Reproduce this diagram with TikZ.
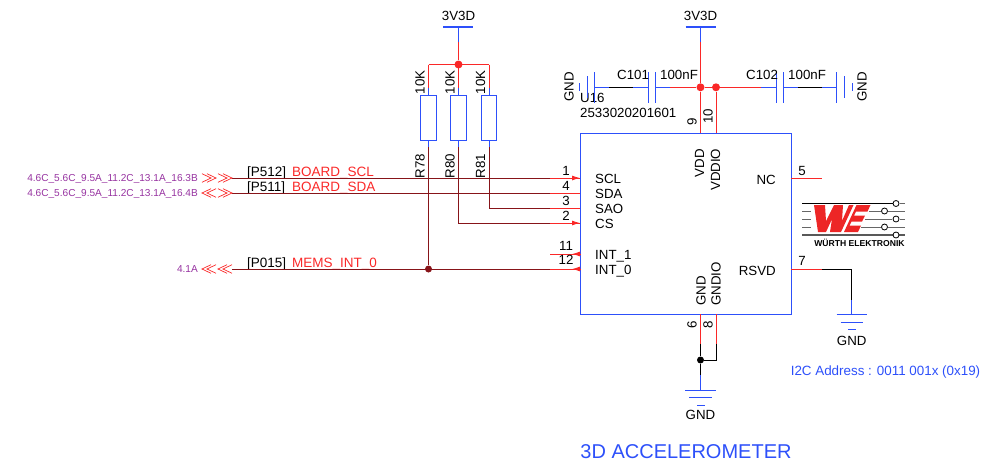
\documentclass[tikz,border=0pt]{standalone}
\usepackage{fontspec}
\setmainfont{Liberation Sans}
\usetikzlibrary{arrows.meta}
\definecolor{wireblue}{RGB}{45,80,250}
\definecolor{wirered}{RGB}{250,40,40}
\definecolor{wiredark}{RGB}{135,20,25}
\definecolor{sheetpurple}{RGB}{150,50,160}
\tikzset{
  x=1pt, y=-1pt,
  bluew/.style={draw=wireblue, line width=0.9pt},
  redw/.style={draw=wirered, line width=0.9pt},
  darkw/.style={draw=wiredark, line width=0.9pt},
  blackw/.style={draw=black, line width=0.9pt},
  dot/.style={circle, fill=#1, inner sep=0pt, minimum size=8pt},
  txt/.style={inner sep=0pt, font=\fontsize{13.3}{13.3}\selectfont},
  small/.style={inner sep=0pt, text=sheetpurple, font=\fontsize{10.1}{10.1}\selectfont},
  netname/.style={txt, anchor=base west, text=wirered, font=\fontsize{13.5}{13.5}\selectfont},
  netref/.style={txt, anchor=base west, font=\fontsize{13.5}{13.5}\selectfont},
  res/.style={draw=wireblue, line width=0.9pt, inner sep=0pt, minimum width=15.5pt, minimum height=45pt},
  ic/.style={draw=wireblue, line width=0.9pt, inner sep=0pt, minimum width=211pt, minimum height=181pt},
  chev/.pic={
    \foreach \s in {0,5} {
      \draw[draw=wirered, line width=0.7pt] (\s,-4.3) -- (\s+9,0) -- (\s,4.3);
    }
  }
}
\begin{document}
\begin{tikzpicture}
    \useasboundingbox (0,0) rectangle (990,461);

    % Accelerometer body
    \node[ic] (U16) at (685.5,223.5) {};
    \node[txt, anchor=west] (refdes) at (580,98) {U16};
    \node[txt, anchor=west] (partno) at (580,113) {2533020201601};
    \node[txt, text=wireblue, font=\fontsize{20}{20}\selectfont] (title) at (686,451.5) {3D ACCELEROMETER};
    \node[txt, text=wireblue, font=\fontsize{13.4}{13.4}\selectfont] (i2caddr) at (885.5,372) {I2C Address : 0011 001x (0x19)};

    % Left pins: name/y/number/number y/pin label
    \foreach \n/\y/\p/\q/\l in {scl/178/1/171/SCL, sda/193/4/186/SDA, sao/208/3/201/SAO, cs/223/2/216/CS, intb/254/11/246/INT\_1, inta/269/12/260/INT\_0} {
      \coordinate (\n pin) at (580,\y);
      \coordinate (\n stub) at (550,\y);
      \node[txt] (\n num) at (566,\q) {\p};
      \node[txt, anchor=base west] (\n lab) at (595,\y+5.7) {\l};
      \draw[redw] (\n stub) -- (\n pin);
    }
    % Pin arrows
    \foreach \n in {scl,cs} {
      \draw[redw, -{Latex[length=8pt,width=5pt]}] (\n stub) -- (\n pin);
    }
    \foreach \n in {intb,inta} {
      \draw[redw, -{Latex[length=8pt,width=5pt]}] (\n pin) -- ++(-8,0);
    }

    % Nets going off the sheet
    \foreach \n/\r/\t/\y in {scl/P512/BOARD\_SCL/178, sda/P511/BOARD\_SDA/193, inta/P015/MEMS\_INT\_0/269} {
      \coordinate (\n off) at (232,\y);
      \node[netref] (\n ref) at (247,\y-1.5) {[\r]};
      \node[netname] (\n net) at (292,\y-1.5) {\t};
      \draw[darkw] (\n off) -- (\n stub);
    }
    \pic at (202,178) {chev};
    \pic at (218,178) {chev};
    \pic[xscale=-1] at (216,193) {chev};
    \pic at (218,193) {chev};
    \pic[xscale=-1] at (216,269) {chev};
    \pic[xscale=-1] at (232,269) {chev};
    \node[small, anchor=east] (sclsheet) at (198,178.5) {4.6C\_5.6C\_9.5A\_11.2C\_13.1A\_16.3B};
    \node[small, anchor=east] (sdasheet) at (198,193.5) {4.6C\_5.6C\_9.5A\_11.2C\_13.1A\_16.4B};
    \node[small, anchor=east] (intsheet) at (198,269.5) {4.1A};

    % Pull-ups
    \node[txt] (pwrA) at (458.5,15.5) {3V3D};
    \coordinate (barAl) at (443,27);
    \coordinate (barAr) at (473,27);
    \coordinate (barAm) at (458.5,27);
    \coordinate (barAs) at (458.5,42);
    \node[dot=wirered] (busA) at (458.5,64.5) {};
    \draw[bluew, line width=1.4pt] (barAl) -- (barAr);
    \draw[bluew] (barAm) -- (barAs);
    \draw[redw] (barAs) -- (busA);
    \foreach \r/\x/\v in {R78/428.5/10K, R80/458.5/10K, R81/489/10K} {
      \node[res] (\r) at (\x,117.5) {};
      \coordinate (\r top) at (\x,64.5);
      \coordinate (\r a) at (\x,88);
      \coordinate (\r b) at (\x,147);
      \node[txt, rotate=90] (\r val) at (\x-8.5,82.5) {\v};
      \node[txt, rotate=90] (\r name) at (\x-8.5,166) {\r};
      \draw[redw] (\r top) -- (\r a);
      \draw[bluew] (\r a) -- (\r.north);
      \draw[bluew] (\r.south) -- (\r b);
    }
    \draw[redw] (R78top) -- (R81top);
    \node[dot=wiredark, minimum size=7pt] (intjoin) at (428.5,269) {};
    \draw[darkw] (R78b) -- (intjoin);
    \draw[darkw] (R80b) |- (csstub);
    \draw[darkw] (R81b) |- (saostub);

    % Supply and decoupling
    \node[txt] (pwrB) at (700.5,15.5) {3V3D};
    \coordinate (barBl) at (685.5,27);
    \coordinate (barBr) at (716,27);
    \coordinate (barBm) at (700.5,27);
    \coordinate (barBs) at (700.5,42);
    \node[dot=wirered] (vdd) at (700.5,87.3) {};
    \node[dot=wirered] (vddio) at (716,87.3) {};
    \coordinate (pin9) at (700.5,133);
    \coordinate (pin10) at (716,133);
    \draw[bluew, line width=1.4pt] (barBl) -- (barBr);
    \draw[bluew] (barBm) -- (barBs);
    \draw[redw] (barBs) -- (vdd) -- (pin9);
    \draw[redw] (vddio) -- (pin10);
    \node[txt, rotate=90] (num9) at (692,122) {9};
    \node[txt, rotate=90] (num10) at (708,116) {10};
    \node[txt, rotate=90, anchor=west] (labvdd) at (699.5,177.5) {VDD};
    \node[txt, rotate=90, anchor=west] (labvddio) at (715.5,191) {VDDIO};

    % Capacitors: plates and the ground plates beside them
    \foreach \n/\x/\top/\bot in {ca/648/72/103, cb/655/72/103, cc/776.7/72/103, cd/783.7/72/103, ga/594.5/72/103, gb/587/76/98, gc/579.5/83/91, ge/836.7/72/103, gf/844/76/98, gg/852/83/91} {
      \coordinate (\n t) at (\x,\top);
      \coordinate (\n b) at (\x,\bot);
      \coordinate (\n m) at (\x,87.3);
      \draw[bluew] (\n t) -- (\n b);
    }
    \coordinate (wa) at (609,87.3);
    \coordinate (wb) at (633,87.3);
    \coordinate (wc) at (670,87.3);
    \coordinate (wd) at (761,87.3);
    \coordinate (we) at (798,87.3);
    \coordinate (wf) at (822,87.3);
    \draw[bluew] (gam) -- (wa);
    \draw[blackw] (wa) -- (wb);
    \draw[bluew] (wb) -- (cam);
    \draw[bluew] (cbm) -- (wc);
    \draw[redw] (wc) -- (vdd);
    \draw[redw] (vdd) -- (vddio);
    \draw[redw] (vddio) -- (wd);
    \draw[bluew] (wd) -- (ccm);
    \draw[bluew] (cdm) -- (we);
    \draw[blackw] (we) -- (wf);
    \draw[bluew] (wf) -- (gem);
    \node[txt, rotate=90] (gndL) at (569,87) {GND};
    \node[txt, rotate=90] (gndR) at (862,87) {GND};
    \node[txt, anchor=west] (c101) at (617,75) {C101};
    \node[txt, anchor=west] (c101v) at (660,75) {100nF};
    \node[txt, anchor=west] (c102) at (746,75) {C102};
    \node[txt, anchor=west] (c102v) at (788,75) {100nF};

    % Right side pins
    \coordinate (nca) at (791,178);
    \coordinate (ncb) at (822,178);
    \draw[redw] (nca) -- (ncb);
    \node[txt] (num5) at (802,171) {5};
    \node[txt, anchor=east] (labnc) at (776,179.5) {NC};
    \coordinate (rsvda) at (791,269);
    \coordinate (rsvdb) at (822,269);
    \coordinate (rsvdc) at (851.7,300);
    \coordinate (gndC) at (851.7,314);
    \draw[blackw] (rsvdb) -| (rsvdc);
    \draw[redw] (rsvda) -- (rsvdb);
    \draw[bluew] (rsvdc) -- (gndC);
    \node[txt] (num7) at (802,260.5) {7};
    \node[txt, anchor=east] (labrsvd) at (776,270.5) {RSVD};
    \draw[bluew] (836.5,314) -- (867,314) (840.5,322) -- (863,322) (848,329.5) -- (856,329.5);
    \node[txt] (gndC text) at (851.7,341) {GND};

    % Bottom pins
    \coordinate (pin6) at (700.5,314);
    \coordinate (pin8) at (716,314);
    \coordinate (pin6e) at (700.5,344);
    \coordinate (pin8e) at (716,344);
    \node[dot=black, minimum size=7pt] (gndjoin) at (700.5,360) {};
    \coordinate (gndDs) at (700.5,375);
    \coordinate (gndD) at (700.5,390);
    \draw[redw] (pin6) -- (pin6e);
    \draw[redw] (pin8) -- (pin8e);
    \draw[blackw] (pin6e) -- (gndjoin) -- (gndDs);
    \draw[blackw] (pin8e) |- (gndjoin);
    \draw[bluew] (gndDs) -- (gndD);
    \draw[bluew] (685,390) -- (716,390) (689,397.5) -- (712,397.5) (697,405) -- (705,405);
    \node[txt] (gndD text) at (700.5,415) {GND};
    \node[txt, rotate=90] (num6) at (692,325) {6};
    \node[txt, rotate=90] (num8) at (708,325) {8};
    \node[txt, rotate=90, anchor=west] (labgnd) at (701,306) {GND};
    \node[txt, rotate=90, anchor=west] (labgndio) at (716,306) {GNDIO};

    % Logo
    \draw[black, line width=0.8pt] (802,203.5) -- (892.5,203.5);
    \foreach \y/\a/\b in {211/869/881, 219/865/892, 227/861/881} {
      \draw[gray!80!black, line width=0.9pt] (802,\y) -- (811,\y);
      \draw[gray!80!black, line width=0.9pt] (\a,\y) -- (\b,\y);
    }
    \draw[gray!80!black, line width=0.9pt] (888,211) -- (905,211) (888,227) -- (905,227) (900,219) -- (905,219) (900,203.5) -- (905,203.5);
    \draw[gray!70!black, line width=1.3pt] (802,235) -- (905,235);
    \foreach \x/\y in {896/203.5, 884.5/211, 896/219, 884.5/227, 896/235} {
      \draw[black, line width=0.8pt, fill=white] (\x,\y) circle (3);
    }
    \fill[wirered!95!black] (814,205) -- (825,205) -- (826,221) -- (834,205) -- (843,205) -- (842,221) -- (849,205) -- (853.5,205) -- (841,232) -- (830,232) -- (832,219) -- (826,232) -- (818,232) -- cycle;
    \fill[wirered!95!black] (856.5,205) -- (870.5,205) -- (867.5,211.5) -- (856,211.5) -- (854,215.5) -- (865,215.5) -- (862,221.5) -- (851.5,221.5) -- (849.5,225.5) -- (861,225.5) -- (858,232) -- (844,232) -- cycle;
    \node[inner sep=0pt, font=\bfseries\fontsize{8.6}{8.6}\selectfont] (logotext) at (859.5,243) {WÜRTH ELEKTRONIK};
\end{tikzpicture}
\end{document}
